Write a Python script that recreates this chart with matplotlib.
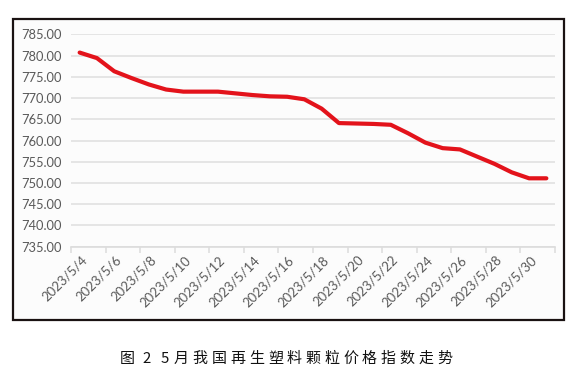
import matplotlib
matplotlib.use("Agg")
import matplotlib.pyplot as plt
from matplotlib.patches import Rectangle
import matplotlib.transforms as mtransforms

# ---- data ----
dates = [f"2023/5/{d}" for d in range(4, 32)]
values = [780.7, 779.4, 776.3, 774.7, 773.2, 772.0, 771.5, 771.5, 771.5, 771.1,
          770.7, 770.4, 770.3, 769.7, 767.5, 764.1, 764.0, 763.9, 763.7, 761.7,
          759.5, 758.2, 757.9, 756.2, 754.5, 752.5, 751.1, 751.1]
y_ticks = [735, 740, 745, 750, 755, 760, 765, 770, 775, 780, 785]
caption_chars = ["图", "2", "5", "月", "我", "国", "再", "生", "塑", "料", "颗", "粒",
                 "价", "格", "指", "数", "走", "势"]

W, H = 584, 380
fig = plt.figure(figsize=(W / 100, H / 100), dpi=100)
fig.patch.set_facecolor("white")

# outer frame
frame = Rectangle((12.7 / W, 1 - 320 / H), (563.5 - 12.7) / W, (320 - 19) / H,
                  transform=fig.transFigure, facecolor="#fcfcfc",
                  edgecolor="#1a1212", linewidth=1.6, zorder=-5)
fig.patches.append(frame)

left, right, top, bottom = 71 / W, 555 / W, 34.3 / H, 246.7 / H
ax = fig.add_axes([left, 1 - bottom, right - left, bottom - top])
ax.set_zorder(2)
ax.set_facecolor("none")

n = len(values)
x = list(range(n))
ax.plot(x, values, color="#e3131b", linewidth=3.0, solid_capstyle="round",
        solid_joinstyle="round", zorder=3)

ax.set_xlim(-0.5, n - 0.5)
ax.set_ylim(735, 785)
ax.set_yticks(y_ticks)
ax.set_yticklabels([f"{v:.2f}" for v in y_ticks])
ax.yaxis.grid(True, color="#e3e3e3", linewidth=1.3)
ax.set_axisbelow(True)

for s in ["top", "right", "left"]:
    ax.spines[s].set_visible(False)
ax.spines["bottom"].set_color("#dcdcdc")
ax.spines["bottom"].set_linewidth(1.2)

font = "Lato"
ax.tick_params(axis="y", length=0, pad=7, labelsize=9.3, labelcolor="#595959")
for lab in ax.get_yticklabels():
    lab.set_fontfamily(font)

# major ticks at boundaries every 2 categories, labels at category centers
ax.set_xticks([i - 0.5 for i in range(0, n + 1, 2)])
ax.set_xticklabels([])
ax.tick_params(axis="x", which="major", length=4, width=1.1, color="#dcdcdc")
ax.set_xticks(list(range(0, n, 2)), minor=True)
ax.set_xticklabels(dates[::2], minor=True)
ax.tick_params(axis="x", which="minor", length=0, pad=5, labelsize=9.5,
               labelcolor="#595959")
offset = mtransforms.ScaledTranslation(1 / 100, 0, fig.dpi_scale_trans)
for lab in ax.get_xticklabels(minor=True):
    lab.set_fontfamily(font)
    lab.set_rotation(45)
    lab.set_ha("right")
    lab.set_rotation_mode("anchor")
    lab.set_transform(lab.get_transform() + offset)

# caption with letter spacing
cx = [127.7, 146.7, 165.0]
pos = 181.5
for _ in caption_chars[3:]:
    cx.append(pos)
    pos += 18.8
for ch, px in zip(caption_chars, cx):
    fig.text(px / W, 1 - 359 / H, ch, ha="center", va="center", fontsize=10.8,
             family=["Noto Sans CJK SC", "DejaVu Sans"], color="#111111",
             fontweight="medium")

fig.savefig("out.png", dpi=100)
